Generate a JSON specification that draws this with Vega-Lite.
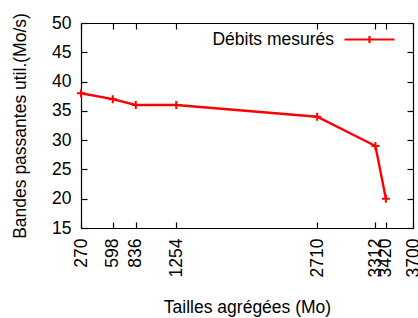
{
  "$schema": "https://vega.github.io/schema/vega-lite/v6.json",
  "width": 332,
  "height": 205,
  "autosize": {"type": "none"},
  "padding": {"left": 81, "top": 23, "right": 5, "bottom": 90},
  "background": "#ffffff",
  "config": {
    "view": {"stroke": null},
    "font": "Liberation Sans",
    "axis": {"grid": false, "domainColor": "#000000", "tickColor": "#000000", "labelColor": "#000000", "titleColor": "#000000", "labelFont": "Liberation Sans", "titleFont": "Liberation Sans", "labelFontSize": 17.5, "titleFontSize": 17.5, "titleFontWeight": "normal", "tickSize": -6, "domainWidth": 1.2, "tickWidth": 1.2, "labelOverlap": false, "labelFlush": false, "labelBound": false}
  },
  "data": {"values": [
    {"taille": 270, "debit": 38, "serie": "Débits mesurés"},
    {"taille": 598, "debit": 37, "serie": "Débits mesurés"},
    {"taille": 836, "debit": 36, "serie": "Débits mesurés"},
    {"taille": 1254, "debit": 36, "serie": "Débits mesurés"},
    {"taille": 2710, "debit": 34, "serie": "Débits mesurés"},
    {"taille": 3312, "debit": 29, "serie": "Débits mesurés"},
    {"taille": 3420, "debit": 20, "serie": "Débits mesurés"}
  ]},
  "layer": [
    {
      "mark": {"type": "line", "strokeWidth": 2.4, "clip": false},
      "encoding": {
        "x": {"field": "taille", "type": "quantitative", "scale": {"domain": [270, 3700], "nice": false, "zero": false},
          "axis": {"orient": "bottom", "values": [270, 598, 836, 1254, 2710, 3312, 3420, 3700], "format": "d", "labelAngle": -90, "labelPadding": 16, "title": "Tailles agrégées (Mo)", "titlePadding": 22}},
        "y": {"field": "debit", "type": "quantitative", "scale": {"domain": [15, 50], "nice": false, "zero": false},
          "axis": {"orient": "left", "values": [15, 20, 25, 30, 35, 40, 45, 50], "labelPadding": 16, "title": "Bandes passantes util.(Mo/s)", "titlePadding": 22}},
        "color": {"field": "serie", "type": "nominal", "scale": {"range": ["#ff0000"]},
          "legend": {"orient": "none", "legendX": 262, "legendY": -10, "title": null, "padding": 0,
            "symbolType": "M-1,0H1M0,-0.14V0.14", "symbolSize": 2500, "symbolStrokeWidth": 2.2, "symbolFillColor": "transparent", "symbolStrokeColor": "#ff0000",
            "labelAlign": "right", "labelOffset": -62, "labelFontSize": 17.5, "labelFont": "Liberation Sans", "labelColor": "#000000"}}
      }
    },
    {
      "mark": {"type": "point", "shape": "M-1,0H1M0,-1V1", "filled": false, "size": 64, "strokeWidth": 2, "color": "#ff0000", "opacity": 1, "clip": false},
      "encoding": {
        "x": {"field": "taille", "type": "quantitative",
          "axis": {"orient": "top", "values": [270, 598, 836, 1254, 2710, 3312, 3420, 3700], "labels": false, "title": null}},
        "y": {"field": "debit", "type": "quantitative",
          "axis": {"orient": "right", "values": [15, 20, 25, 30, 35, 40, 45, 50], "labels": false, "title": null}}
      }
    }
  ],
  "resolve": {"axis": {"x": "independent", "y": "independent"}}
}
